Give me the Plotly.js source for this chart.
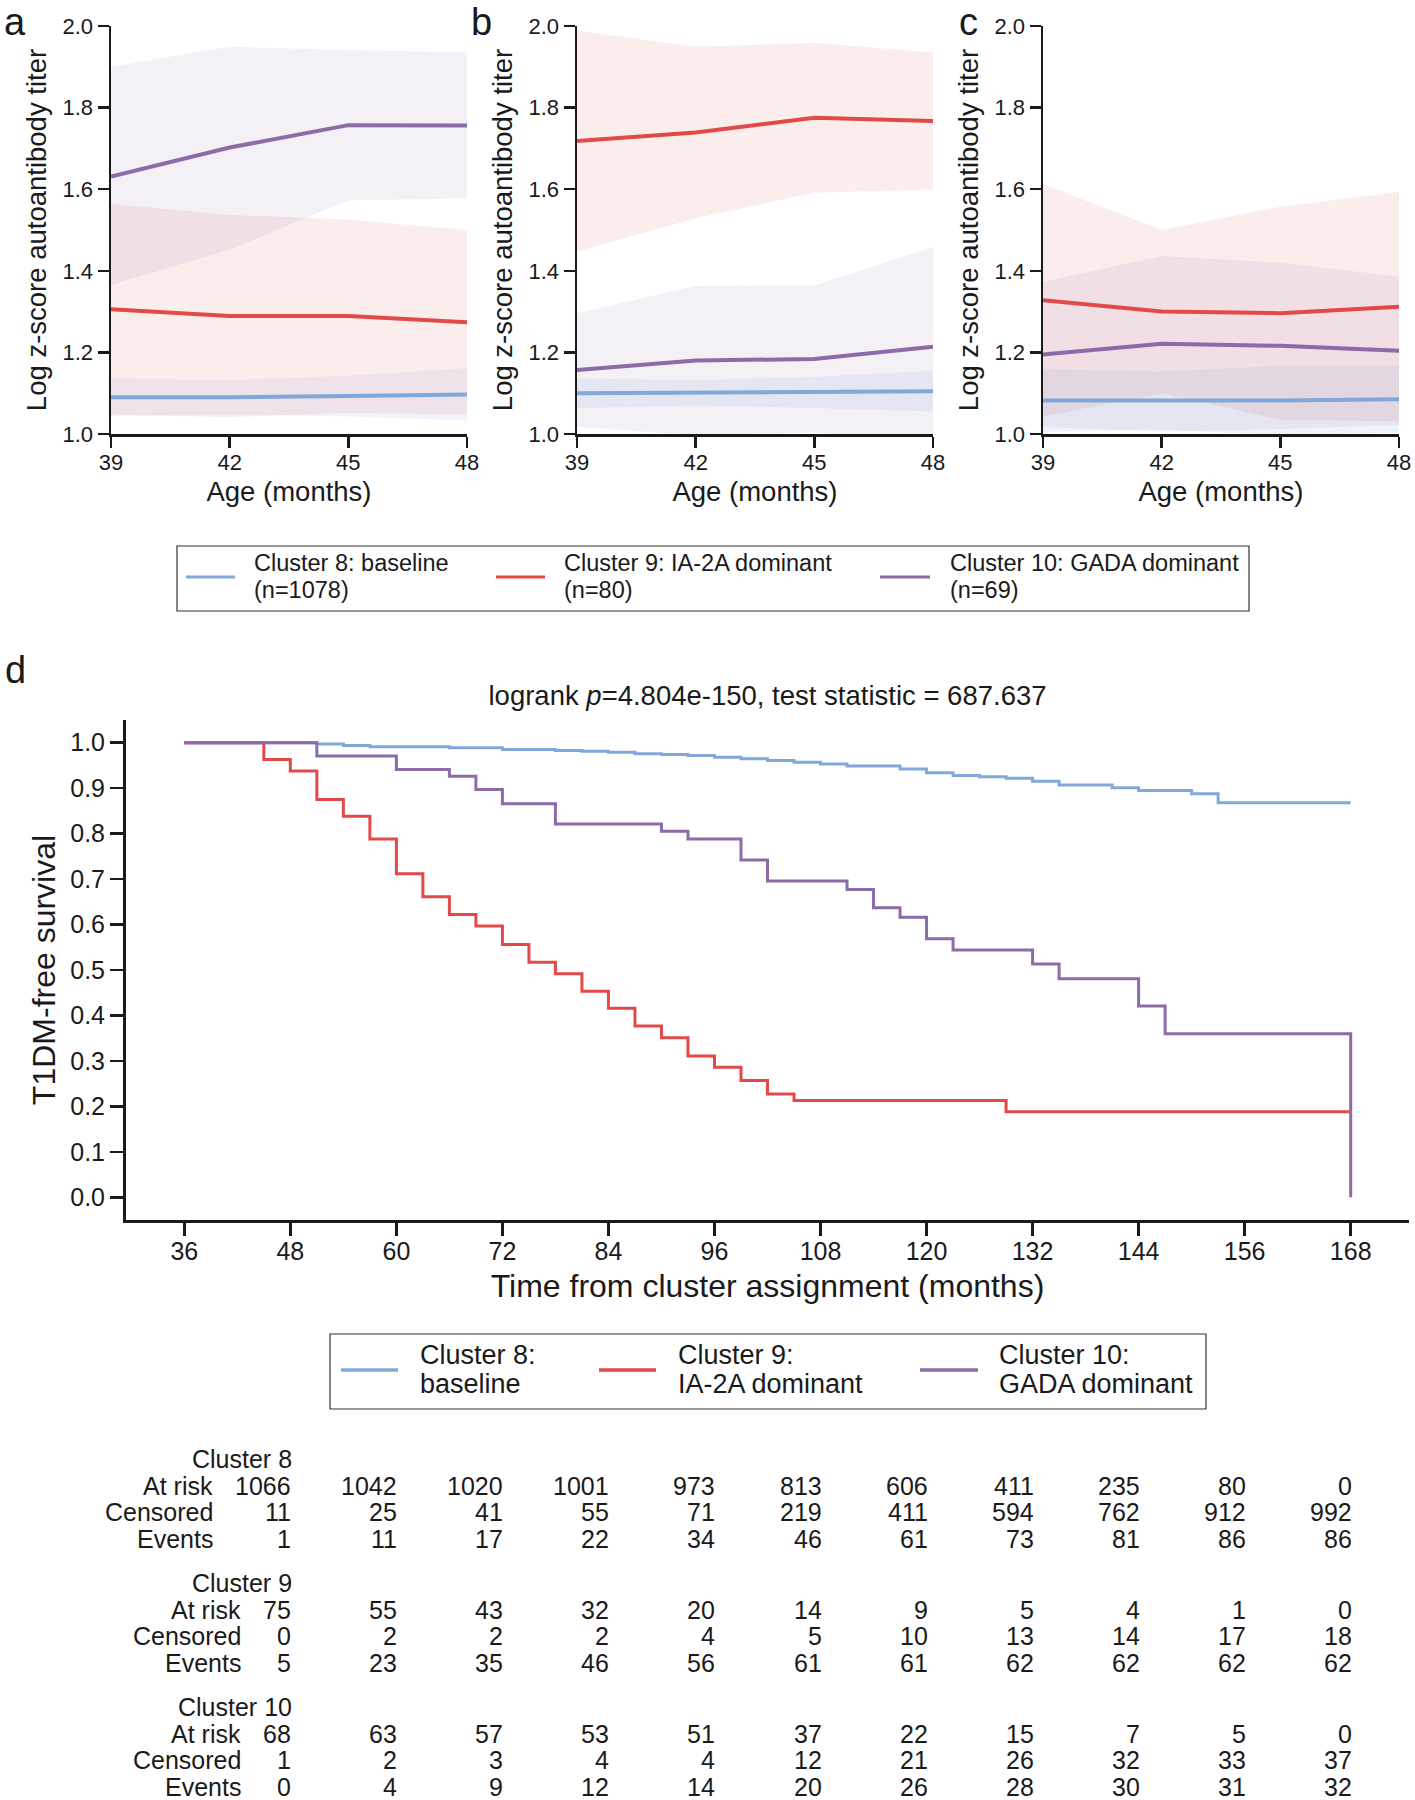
<!DOCTYPE html>
<html><head><meta charset="utf-8">
<script src="https://cdn.plot.ly/plotly-3.0.1.min.js"></script>
<style>body{margin:0;background:#fff}</style>
</head><body><div id="chart" style="width:1415px;height:1800px"></div>
<script>
// ---------------- data ----------------
const ages = [39, 42, 45, 48];
const clusterLabels = ['Cluster 8: baseline', 'Cluster 9: IA-2A dominant', 'Cluster 10: GADA dominant'];
const clusterN = ['(n=1078)', '(n=80)', '(n=69)'];
const kmLegendLine1 = ['Cluster 8:', 'Cluster 9:', 'Cluster 10:'];
const kmLegendLine2 = ['baseline', 'IA-2A dominant', 'GADA dominant'];

// panel a
const aMean8 = [1.090, 1.090, 1.093, 1.097];
const aUpper8 = [1.136, 1.132, 1.143, 1.161];
const aLower8 = [1.044, 1.048, 1.043, 1.033];
const aMean9 = [1.306, 1.289, 1.289, 1.274];
const aUpper9 = [1.564, 1.537, 1.526, 1.500];
const aLower9 = [1.048, 1.041, 1.052, 1.048];
const aMean10 = [1.631, 1.702, 1.757, 1.756];
const aUpper10 = [1.900, 1.949, 1.941, 1.935];
const aLower10 = [1.365, 1.452, 1.573, 1.577];
// panel b
const bMean8 = [1.100, 1.101, 1.102, 1.105];
const bUpper8 = [1.136, 1.132, 1.140, 1.155];
const bLower8 = [1.064, 1.070, 1.064, 1.055];
const bMean9 = [1.718, 1.739, 1.775, 1.767];
const bUpper9 = [1.989, 1.949, 1.959, 1.935];
const bLower9 = [1.447, 1.529, 1.591, 1.599];
const bMean10 = [1.157, 1.180, 1.184, 1.214];
const bUpper10 = [1.296, 1.363, 1.364, 1.458];
const bLower10 = [1.018, 0.997, 1.004, 0.970];
// panel c
const cMean8 = [1.082, 1.082, 1.082, 1.085];
const cUpper8 = [1.159, 1.153, 1.167, 1.167];
const cLower8 = [1.005, 1.011, 0.997, 1.003];
const cMean9 = [1.328, 1.300, 1.296, 1.312];
const cUpper9 = [1.613, 1.500, 1.557, 1.593];
const cLower9 = [1.043, 1.100, 1.035, 1.031];
const cMean10 = [1.195, 1.221, 1.216, 1.204];
const cUpper10 = [1.373, 1.436, 1.420, 1.386];
const cLower10 = [1.017, 1.006, 1.012, 1.022];

// Kaplan-Meier step curves (time in months, survival)
const kmTimes8 = [36, 51, 54, 57, 66, 72, 78, 81, 84, 87, 90, 93, 96, 99, 102, 105, 108, 111, 117, 120, 123, 126, 129, 132, 135, 141, 144, 150, 153, 168];
const kmSurv8  = [1, 0.997, 0.994, 0.991, 0.989, 0.985, 0.983, 0.981, 0.979, 0.976, 0.974, 0.972, 0.968, 0.965, 0.961, 0.957, 0.953, 0.949, 0.942, 0.934, 0.928, 0.925, 0.922, 0.915, 0.907, 0.901, 0.895, 0.888, 0.868, 0.868];
const kmTimes9 = [36, 45, 48, 51, 54, 57, 60, 63, 66, 69, 72, 75, 78, 81, 84, 87, 90, 93, 96, 99, 102, 105, 129, 168];
const kmSurv9  = [1, 0.963, 0.938, 0.875, 0.838, 0.788, 0.712, 0.661, 0.622, 0.597, 0.556, 0.517, 0.492, 0.453, 0.416, 0.377, 0.351, 0.311, 0.286, 0.257, 0.227, 0.213, 0.188, 0.188];
const kmTimes10 = [36, 51, 60, 66, 69, 72, 78, 90, 93, 99, 102, 111, 114, 117, 120, 123, 132, 135, 144, 147, 168];
const kmSurv10  = [1, 0.971, 0.941, 0.926, 0.897, 0.866, 0.821, 0.805, 0.788, 0.742, 0.696, 0.677, 0.637, 0.616, 0.569, 0.544, 0.513, 0.481, 0.421, 0.360, 0];
const kmXTicks = [36, 48, 60, 72, 84, 96, 108, 120, 132, 144, 156, 168];

// at-risk table
const riskTimes = [48, 60, 72, 84, 96, 108, 120, 132, 144, 156, 168];
const tableBlocks = ['Cluster 8', 'Cluster 9', 'Cluster 10'];
const tableRows = ['At risk', 'Censored', 'Events'];
const atRisk8 = [1066, 1042, 1020, 1001, 973, 813, 606, 411, 235, 80, 0];
const censored8 = [11, 25, 41, 55, 71, 219, 411, 594, 762, 912, 992];
const events8 = [1, 11, 17, 22, 34, 46, 61, 73, 81, 86, 86];
const atRisk9 = [75, 55, 43, 32, 20, 14, 9, 5, 4, 1, 0];
const censored9 = [0, 2, 2, 2, 4, 5, 10, 13, 14, 17, 18];
const events9 = [5, 23, 35, 46, 56, 61, 61, 62, 62, 62, 62];
const atRisk10 = [68, 63, 57, 53, 51, 37, 22, 15, 7, 5, 0];
const censored10 = [1, 2, 3, 4, 4, 12, 21, 26, 32, 33, 37];
const events10 = [0, 4, 9, 12, 14, 20, 26, 28, 30, 31, 32];

const kmTitle = 'logrank <i>p</i>=4.804e-150, test statistic = 687.637';

// ---------------- styling / layout ----------------
const FONT = 'Liberation Sans, Arial, Helvetica, sans-serif';
const INK = '#1a1a1a';
const colors = ['#82a8da', '#e24a4a', '#8d6aa8'];
const bands = ['rgba(130,168,218,0.13)', 'rgba(226,74,74,0.10)', 'rgba(141,106,168,0.10)'];
const W = 1415, H = 1800;
const px = v => v / W;
const py = v => 1 - v / H;

const panels = [
  {mean: [aMean8, aMean9, aMean10], up: [aUpper8, aUpper9, aUpper10], lo: [aLower8, aLower9, aLower10], xa: 'x', ya: 'y'},
  {mean: [bMean8, bMean9, bMean10], up: [bUpper8, bUpper9, bUpper10], lo: [bLower8, bLower9, bLower10], xa: 'x2', ya: 'y2'},
  {mean: [cMean8, cMean9, cMean10], up: [cUpper8, cUpper9, cUpper10], lo: [cLower8, cLower9, cLower10], xa: 'x3', ya: 'y3'}
];

const traces = [];
panels.forEach(p => {
  for (let k = 0; k < 3; k++) {
    traces.push({
      type: 'scatter', mode: 'lines', xaxis: p.xa, yaxis: p.ya,
      x: ages.concat(ages.slice().reverse()),
      y: p.up[k].concat(p.lo[k].slice().reverse()),
      fill: 'toself', fillcolor: bands[k], line: {width: 0}, hoverinfo: 'skip', showlegend: false
    });
  }
  for (let k = 0; k < 3; k++) {
    traces.push({
      type: 'scatter', mode: 'lines', xaxis: p.xa, yaxis: p.ya,
      x: ages, y: p.mean[k], line: {color: colors[k], width: 4},
      name: clusterLabels[k], showlegend: false
    });
  }
});
const km = [[kmTimes8, kmSurv8], [kmTimes9, kmSurv9], [kmTimes10, kmSurv10]];
km.forEach((c, k) => {
  traces.push({
    type: 'scatter', mode: 'lines', xaxis: 'x4', yaxis: 'y4',
    x: c[0], y: c[1], line: {color: colors[k], width: 3, shape: 'hv'},
    name: clusterLabels[k], showlegend: false
  });
});

function topX(dom) {
  return {domain: dom, range: [39, 48], tickvals: ages, showline: true, linecolor: INK, linewidth: 2.5,
    ticks: 'outside', ticklen: 11, tickwidth: 2.5, tickcolor: INK, showgrid: false, zeroline: false,
    tickfont: {size: 22, color: INK}, automargin: false, ticklabelstandoff: -4,
    title: {text: 'Age (months)', font: {size: 27.5, color: INK}, standoff: 8}};
}
function topY(anchor) {
  return {domain: [py(434), py(26)], range: [1, 2], dtick: 0.2, tick0: 1, tickformat: '.1f', anchor: anchor,
    showline: true, linecolor: INK, linewidth: 2.5, ticks: 'outside', ticklen: 11, tickwidth: 2.5, tickcolor: INK,
    showgrid: false, zeroline: false, tickfont: {size: 22, color: INK}, automargin: false,
    title: {text: 'Log z-score autoantibody titer', font: {size: 27.5, color: INK}, standoff: 8}};
}

const layout = {
  width: W, height: H, margin: {l: 0, r: 0, t: 0, b: 0},
  paper_bgcolor: '#fff', plot_bgcolor: 'rgba(0,0,0,0)',
  font: {family: FONT, color: INK},
  showlegend: false,
  title: {text: kmTitle, x: px(767.5), xanchor: 'center', xref: 'paper', y: py(695), yref: 'paper', yanchor: 'middle',
    font: {size: 27.5, color: INK}},
  xaxis: Object.assign(topX([px(111), px(467)]), {anchor: 'y'}),
  yaxis: topY('x'),
  xaxis2: Object.assign(topX([px(577), px(933)]), {anchor: 'y2'}),
  yaxis2: topY('x2'),
  xaxis3: Object.assign(topX([px(1043), px(1399)]), {anchor: 'y3'}),
  yaxis3: topY('x3'),
  xaxis4: {domain: [px(126), px(1409)], anchor: 'y4', range: [29.4, 174.6], tickvals: kmXTicks,
    showline: true, linecolor: INK, linewidth: 3, ticks: 'outside', ticklen: 13, tickwidth: 2.5, tickcolor: INK,
    showgrid: false, zeroline: false, tickfont: {size: 25, color: INK}, automargin: false, ticklabelstandoff: -6,
    title: {text: 'Time from cluster assignment (months)', font: {size: 32, color: INK}, standoff: 11}},
  yaxis4: {domain: [py(1220), py(720)], anchor: 'x4', range: [-0.05, 1.05], dtick: 0.1, tick0: 0, tickformat: '.1f',
    showline: true, linecolor: INK, linewidth: 3, ticks: 'outside', ticklen: 13, tickwidth: 2.5, tickcolor: INK,
    showgrid: false, zeroline: false, tickfont: {size: 25, color: INK}, automargin: false,
    title: {text: 'T1DM-free survival', font: {size: 32, color: INK}, standoff: 6}},
  shapes: [],
  annotations: []
};

// panel letters
[['a', 3], ['b', 470], ['c', 958]].forEach(l => {
  layout.annotations.push({text: l[0], xref: 'paper', yref: 'paper', x: px(l[1]), y: 1,
    xanchor: 'left', yanchor: 'top', borderpad: 0, showarrow: false, font: {size: 38, color: INK}});
});
layout.annotations.push({text: 'd', xref: 'paper', yref: 'paper', x: px(3), y: py(670),
  xanchor: 'left', yanchor: 'middle', showarrow: false, font: {size: 38, color: INK}});

// legend for panels a-c
layout.shapes.push({type: 'rect', xref: 'paper', yref: 'paper', x0: px(177), x1: px(1249), y0: py(546), y1: py(611),
  line: {color: '#333', width: 1.2}, fillcolor: 'rgba(0,0,0,0)'});
const topLegLine = [[186, 235], [496, 545], [880, 930]];
const topLegText = [252, 562, 948];
for (let k = 0; k < 3; k++) {
  layout.shapes.push({type: 'line', xref: 'paper', yref: 'paper', x0: px(topLegLine[k][0]), x1: px(topLegLine[k][1]),
    y0: py(577), y1: py(577), line: {color: colors[k], width: 3}});
  layout.annotations.push({text: clusterLabels[k], xref: 'paper', yref: 'paper', x: px(topLegText[k]), y: py(563),
    xanchor: 'left', yanchor: 'middle', showarrow: false, font: {size: 23.5, color: INK}});
  layout.annotations.push({text: clusterN[k], xref: 'paper', yref: 'paper', x: px(topLegText[k]), y: py(590),
    xanchor: 'left', yanchor: 'middle', showarrow: false, font: {size: 23.5, color: INK}});
}

// legend for survival plot
layout.shapes.push({type: 'rect', xref: 'paper', yref: 'paper', x0: px(330), x1: px(1206), y0: py(1334), y1: py(1409),
  line: {color: '#333', width: 1.2}, fillcolor: 'rgba(0,0,0,0)'});
const kmLegLine = [[341, 398], [599, 656], [920, 978]];
const kmLegText = [418, 676, 997];
for (let k = 0; k < 3; k++) {
  layout.shapes.push({type: 'line', xref: 'paper', yref: 'paper', x0: px(kmLegLine[k][0]), x1: px(kmLegLine[k][1]),
    y0: py(1370), y1: py(1370), line: {color: colors[k], width: 3.5}});
  layout.annotations.push({text: kmLegendLine1[k], xref: 'paper', yref: 'paper', x: px(kmLegText[k]), y: py(1355),
    xanchor: 'left', yanchor: 'middle', showarrow: false, font: {size: 27, color: INK}});
  layout.annotations.push({text: kmLegendLine2[k], xref: 'paper', yref: 'paper', x: px(kmLegText[k]), y: py(1384),
    xanchor: 'left', yanchor: 'middle', showarrow: false, font: {size: 27, color: INK}});
}

// at-risk table
const tableData = [[atRisk8, censored8, events8], [atRisk9, censored9, events9], [atRisk10, censored10, events10]];
const blockTop = [1459, 1583, 1707];
const rowStep = 26.7;
const rowLabelRight = [215, 243, 243];
tableData.forEach((blk, b) => {
  layout.annotations.push({text: tableBlocks[b], xref: 'paper', yref: 'paper', x: px(294), y: py(blockTop[b]),
    xanchor: 'right', yanchor: 'middle', showarrow: false, font: {size: 25, color: INK}});
  blk.forEach((row, r) => {
    const yy = py(blockTop[b] + rowStep * (r + 1));
    layout.annotations.push({text: tableRows[r], xref: 'paper', yref: 'paper', x: px(rowLabelRight[b]), y: yy,
      xanchor: 'right', yanchor: 'middle', showarrow: false, font: {size: 25, color: INK}});
    row.forEach((v, i) => {
      layout.annotations.push({text: String(v), xref: 'x4', yref: 'paper', x: riskTimes[i], y: yy, xshift: 3,
        xanchor: 'right', yanchor: 'middle', showarrow: false, font: {size: 25, color: INK}});
    });
  });
});

Plotly.newPlot('chart', traces, layout, {displayModeBar: false, staticPlot: true});
</script>
</body></html>
